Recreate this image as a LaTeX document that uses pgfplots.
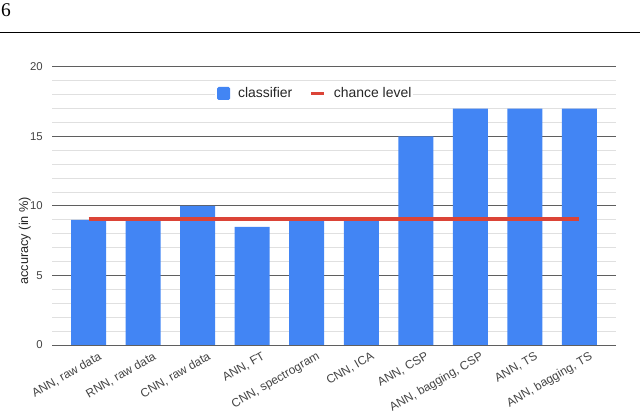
\documentclass[border=0pt]{standalone}
\usepackage{fontspec}
\setmainfont{Liberation Sans}
\newfontfamily\pagefont{Liberation Serif}
\usepackage{pgfplots}
\pgfplotsset{compat=1.18}

\definecolor{barblue}{HTML}{4285F4}
\definecolor{chancered}{HTML}{DB4437}
\definecolor{majorgrid}{HTML}{5F5F5F}
\definecolor{minorgrid}{HTML}{E0E0E0}
\definecolor{labelgray}{HTML}{444444}

\begin{document}
\begin{tikzpicture}
\path[use as bounding box] (0,0) rectangle (640bp,413bp);
% page number and rule above the figure
\node[anchor=base west, inner sep=0pt, font=\pagefont\fontsize{19.5}{20}\selectfont] at (1bp,396bp) {6};
\draw[line width=1bp] (0,380bp) -- (640bp,380bp);

\begin{axis}[
    at={(52bp,68bp)}, anchor=south west,
    scale only axis,
    width=564bp,
    height=278bp,
    xmin=-0.67, xmax=9.67,
    ymin=0, ymax=20,
    xtick={0,...,9},
    xticklabels={{ANN, raw data},{RNN, raw data},{CNN, raw data},{ANN, FT},{CNN, spectrogram},{CNN, ICA},{ANN, CSP},{ANN, bagging, CSP},{ANN, TS},{ANN, bagging, TS}},
    ytick={0,5,10,15,20},
    minor y tick num=4,
    ymajorgrids, yminorgrids,
    major grid style={majorgrid, line width=1bp},
    minor grid style={minorgrid, line width=1bp},
    axis line style={draw=none},
    major tick length=0pt, minor tick length=0pt,
    /pgf/number format/assume math mode=true,
    yticklabel style={font=\fontsize{11.4}{13}\selectfont, text=labelgray, inner sep=0pt, xshift=-9bp},
    xticklabel style={rotate=30, anchor=north east, font=\fontsize{12}{13}\selectfont, text=labelgray, inner sep=0pt, xshift=5bp, yshift=-10bp},
    ylabel={accuracy (in \%)},
    ylabel style={at={(axis description cs:-0.048,0.375)}, anchor=center, font=\fontsize{12.8}{14}\selectfont, text=black!85},
    legend columns=2,
    legend style={at={(axis description cs:0.465,0.905)}, anchor=center, draw=none, fill=white, inner sep=2bp,
        font=\fontsize{14}{16}\selectfont, text=black!85,
        nodes={inner sep=0pt}, column sep=8bp,
        /tikz/every even column/.append style={column sep=17bp}},
]

\addplot[ybar, bar width=35bp, fill=barblue, draw=none,
    legend image code/.code={\fill[barblue, rounded corners=1.5bp] (0bp,-6.5bp) rectangle (13bp,6.5bp);}]
coordinates {
    (0,9)
    (1,9)
    (2,10)
    (3,8.5)
    (4,9)
    (5,9)
    (6,15)
    (7,17)
    (8,17)
    (9,17)
};
\addlegendentry{classifier}

\addplot[chancered, line width=3.5bp,
    legend image code/.code={\draw[chancered, line width=3.5bp] (0bp,0bp) -- (13bp,0bp);}]
coordinates {
    (0,9.08)
    (9,9.08)
};
\addlegendentry{chance level}

\end{axis}
\end{tikzpicture}
\end{document}
